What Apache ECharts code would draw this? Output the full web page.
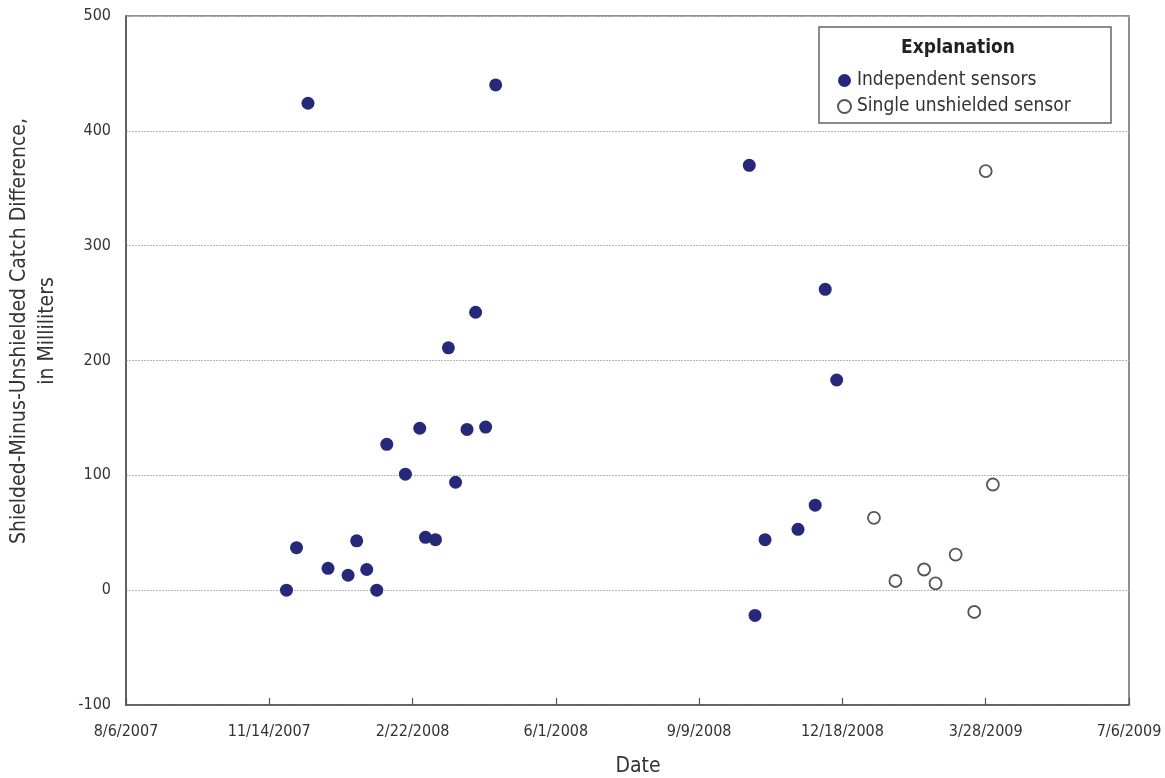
<!DOCTYPE html>
<html>
<head>
<meta charset="utf-8">
<title>Shielded-Minus-Unshielded Catch Difference</title>
<script src="https://cdn.jsdelivr.net/npm/echarts@6/dist/echarts.min.js"></script>
<style>
  html, body { margin: 0; padding: 0; background: #ffffff; }
  #chart { width: 1165px; height: 778px; }
</style>
</head>
<body>
<div id="chart"></div>
<script>
// Sampling dates and catch differences (milliliters)
const independentDates = [
  '2007-11-26', '2007-12-03', '2007-12-11', '2007-12-25', '2008-01-08',
  '2008-01-14', '2008-01-21', '2008-01-28', '2008-02-04', '2008-02-17',
  '2008-02-27', '2008-03-02', '2008-03-09', '2008-03-18', '2008-03-23',
  '2008-03-31', '2008-04-06', '2008-04-13', '2008-04-20',
  '2008-10-14', '2008-10-18', '2008-10-25', '2008-11-17', '2008-11-29',
  '2008-12-06', '2008-12-14'
];
const independentValues = [
  0, 37, 424, 19, 13,
  43, 18, 0, 127, 101,
  141, 46, 44, 211, 94,
  140, 242, 142, 440,
  370, -22, 44, 53, 74,
  262, 183
];
const unshieldedDates = [
  '2009-01-09', '2009-01-24', '2009-02-13', '2009-02-21',
  '2009-03-07', '2009-03-20', '2009-03-28', '2009-04-02'
];
const unshieldedValues = [63, 8, 18, 6, 31, -19, 365, 92];

// Date axis ticks, every 100 days from the first label
const xTickLabels = [
  '8/6/2007', '11/14/2007', '2/22/2008', '6/1/2008',
  '9/9/2008', '12/18/2008', '3/28/2009', '7/6/2009'
];
const yTicks = [-100, 0, 100, 200, 300, 400, 500];

const DAY0 = Date.UTC(2007, 7, 6);
function dayOffset(s) {
  const p = s.split('-').map(Number);
  return Math.round((Date.UTC(p[0], p[1] - 1, p[2]) - DAY0) / 86400000);
}
function pairs(dates, values) {
  return dates.map((d, i) => [dayOffset(d), values[i]]);
}

const FONT = "'Liberation Sans Narrow', 'DejaVu Sans Condensed', 'Liberation Sans', sans-serif";
const TEXT = '#333333';

const chart = echarts.init(document.getElementById('chart'), null, { renderer: 'canvas' });
chart.setOption({
  backgroundColor: '#ffffff',
  animation: false,
  textStyle: { fontFamily: FONT },
  grid: {
    left: 126, right: 36, top: 16, bottom: 73,
    show: true, borderColor: '#6a6a6a', borderWidth: 1.5, backgroundColor: 'transparent'
  },
  xAxis: {
    type: 'value',
    min: 0, max: (xTickLabels.length - 1) * 100, interval: 100,
    axisLine: { show: true, onZero: false, lineStyle: { color: '#555555', width: 1.5 } },
    axisTick: { show: true, inside: true, length: 7, lineStyle: { color: '#555555', width: 1.2 } },
    splitLine: { show: false },
    axisLabel: {
      color: TEXT, fontFamily: FONT, fontSize: 16, margin: 19,
      showMinLabel: true, showMaxLabel: true,
      formatter: v => xTickLabels[Math.round(v / 100)] || ''
    }
  },
  yAxis: {
    type: 'value',
    min: yTicks[0], max: yTicks[yTicks.length - 1], interval: 100,
    axisLine: { show: true, onZero: false, lineStyle: { color: '#555555', width: 1.5 } },
    axisTick: { show: false },
    splitLine: { show: true, lineStyle: { color: '#b8b8b8', width: 1, type: [2, 1] } },
    axisLabel: { color: TEXT, fontFamily: FONT, fontSize: 16, margin: 15 }
  },
  legend: {
    orient: 'vertical',
    left: 832, top: 66,
    itemWidth: 13, itemHeight: 13, itemGap: 7,
    icon: 'circle',
    z: 10,
    textStyle: { color: TEXT, fontFamily: FONT, fontSize: 19, padding: [0, 0, 0, 1] },
    data: ['Independent sensors', 'Single unshielded sensor']
  },
  graphic: [
    {
      type: 'rect', z: 5,
      shape: { x: 819, y: 27, width: 292, height: 96 },
      style: { fill: '#ffffff', stroke: '#666666', lineWidth: 1.5 }
    },
    {
      type: 'text', z: 6, x: 958, y: 48,
      style: {
        text: 'Explanation', fill: '#222222', font: "bold 19px " + FONT,
        align: 'center', verticalAlign: 'middle'
      }
    },
    {
      type: 'text', x: 20, y: 331, rotation: Math.PI / 2,
      style: {
        text: 'Shielded-Minus-Unshielded Catch Difference,', fill: TEXT,
        font: "21px " + FONT, align: 'center', verticalAlign: 'middle'
      }
    },
    {
      type: 'text', x: 48, y: 331, rotation: Math.PI / 2,
      style: {
        text: 'in Milliliters', fill: TEXT,
        font: "21px " + FONT, align: 'center', verticalAlign: 'middle'
      }
    },
    {
      type: 'text', x: 638, y: 767,
      style: {
        text: 'Date', fill: TEXT, font: "21px " + FONT,
        align: 'center', verticalAlign: 'middle'
      }
    }
  ],
  series: [
    {
      name: 'Independent sensors',
      type: 'scatter',
      symbol: 'circle', symbolSize: 13,
      itemStyle: { color: '#26297a', opacity: 1 },
      data: pairs(independentDates, independentValues)
    },
    {
      name: 'Single unshielded sensor',
      type: 'scatter',
      symbol: 'circle', symbolSize: 12,
      itemStyle: { color: '#ffffff', borderColor: '#555555', borderWidth: 1.8, opacity: 1 },
      data: pairs(unshieldedDates, unshieldedValues)
    }
  ]
});
</script>
</body>
</html>
